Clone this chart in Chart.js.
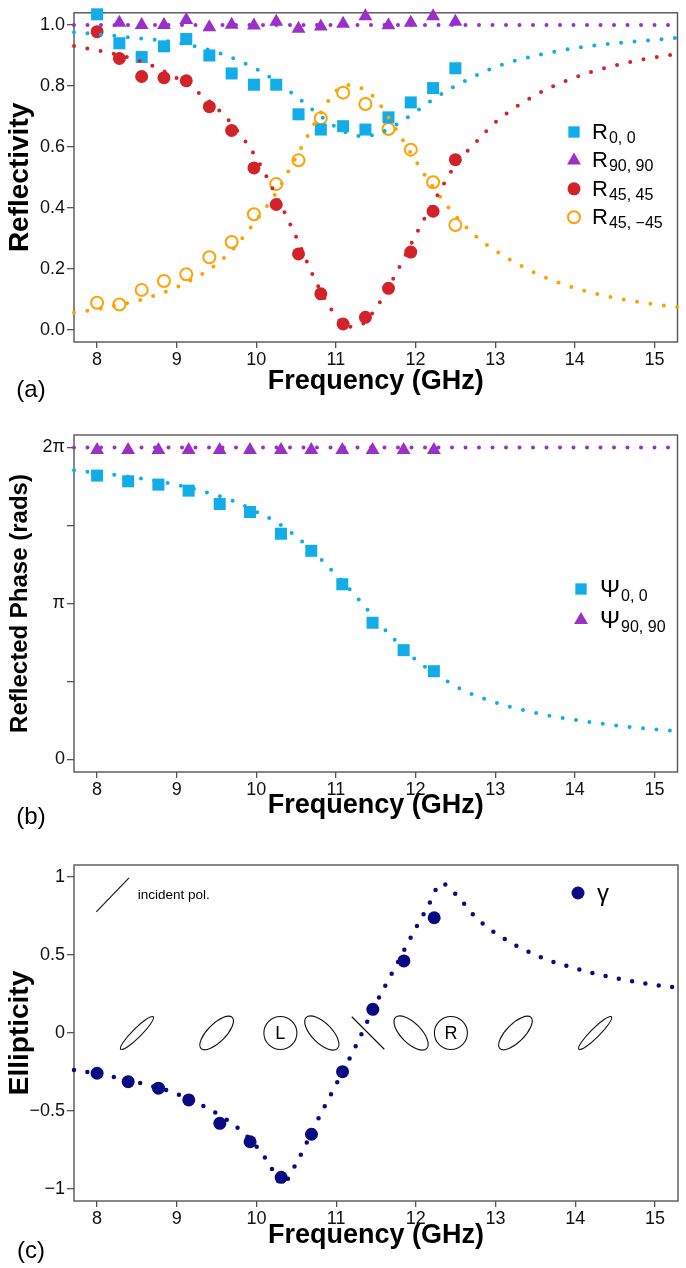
<!DOCTYPE html>
<html>
<head>
<meta charset="utf-8">
<script src="https://cdn.jsdelivr.net/npm/chart.js@4.4.1/dist/chart.umd.min.js"></script>
<style>
  body { margin: 0; background: #fff; width: 686px; height: 1268px; position: relative; overflow: hidden; }
  canvas { position: absolute; left: 0; }
</style>
</head>
<body>
<canvas id="panelA" width="686" height="405" style="top:0"></canvas>
<canvas id="panelB" width="686" height="425" style="top:405px"></canvas>
<canvas id="panelC" width="686" height="438" style="top:830px"></canvas>
<script>
// ---- data ----
// (a) measured reflectivity
const freqA = [8.0, 8.28, 8.56, 8.84, 9.12, 9.41, 9.69, 9.97, 10.25, 10.53, 10.81, 11.09, 11.37, 11.66, 11.94, 12.22, 12.5];
const freqA90 = [8.28, 8.56, 8.84, 9.12, 9.41, 9.69, 9.97, 10.25, 10.53, 10.81, 11.09, 11.37, 11.66, 11.94, 12.22, 12.5];
const r00 = [1.035, 0.94, 0.895, 0.93, 0.954, 0.90, 0.841, 0.804, 0.804, 0.707, 0.657, 0.668, 0.657, 0.697, 0.746, 0.793, 0.858];
const r9090 = [1.007, 1.0, 1.0, 1.016, 0.993, 1.001, 0.998, 1.011, 0.988, 0.995, 1.004, 1.029, 0.999, 1.007, 1.029, 1.011];
const r4545 = [0.978, 0.89, 0.831, 0.827, 0.817, 0.732, 0.654, 0.531, 0.411, 0.249, 0.118, 0.019, 0.041, 0.136, 0.255, 0.389, 0.558];
const r45m45 = [0.089, 0.083, 0.131, 0.16, 0.182, 0.238, 0.288, 0.379, 0.478, 0.556, 0.694, 0.778, 0.741, 0.659, 0.591, 0.484, 0.344];

// (a) model curves (dotted)
const fitFreqA = [7.71, 8.0, 8.5, 9.0, 9.5, 9.75, 10.0, 10.25, 10.5, 10.75, 11.0, 11.15, 11.3, 11.5, 11.75, 12.0, 12.25, 12.5, 12.75, 13.0, 13.5, 14.0, 14.5, 15.0, 15.29];
const fitR00 = [0.976, 0.970, 0.957, 0.942, 0.911, 0.886, 0.856, 0.815, 0.766, 0.713, 0.665, 0.645, 0.636, 0.641, 0.672, 0.715, 0.761, 0.800, 0.833, 0.862, 0.899, 0.924, 0.940, 0.951, 0.958];
const fitR4545 = [0.931, 0.917, 0.885, 0.826, 0.728, 0.657, 0.564, 0.440, 0.305, 0.157, 0.045, 0.010, 0.014, 0.070, 0.182, 0.310, 0.430, 0.540, 0.613, 0.680, 0.769, 0.828, 0.867, 0.894, 0.905];
const fitR45m45 = [0.056, 0.068, 0.095, 0.140, 0.215, 0.277, 0.360, 0.450, 0.567, 0.685, 0.783, 0.803, 0.795, 0.757, 0.660, 0.555, 0.457, 0.375, 0.308, 0.260, 0.187, 0.137, 0.105, 0.084, 0.075];
const fitFreqFlat = [7.71, 15.29];
const fitR9090 = [1.0, 1.0];

// (b) reflected phase, (c) ellipticity
const freqB = [8.0, 8.39, 8.77, 9.15, 9.54, 9.92, 10.31, 10.69, 11.08, 11.46, 11.85, 12.23];
const psi00 = [5.717, 5.602, 5.536, 5.414, 5.145, 4.984, 4.546, 4.202, 3.529, 2.754, 2.202, 1.778];
const psi9090 = [6.23, 6.23, 6.23, 6.23, 6.23, 6.23, 6.23, 6.23, 6.23, 6.23, 6.23, 6.23];
const fitFreqB = [7.71, 8.0, 8.5, 9.0, 9.5, 9.75, 10.0, 10.25, 10.5, 10.75, 11.0, 11.25, 11.5, 11.75, 12.0, 12.25, 12.5, 12.75, 13.0, 13.5, 14.0, 14.5, 15.0, 15.29];
const fitPsi00 = [5.824, 5.775, 5.67, 5.53, 5.32, 5.18, 4.99, 4.78, 4.49, 4.13, 3.72, 3.29, 2.82, 2.39, 2.01, 1.73, 1.48, 1.29, 1.15, 0.94, 0.80, 0.69, 0.61, 0.575];
const fitPsi9090 = [6.2832, 6.2832];

const gamma = [-0.258, -0.312, -0.354, -0.429, -0.579, -0.697, -0.925, -0.649, -0.248, 0.152, 0.462, 0.739];
const fitFreqC = [7.71, 8.0, 8.5, 9.0, 9.5, 9.75, 10.0, 10.15, 10.32, 10.5, 10.75, 11.0, 11.25, 11.5, 11.75, 12.0, 12.15, 12.32, 12.5, 12.75, 13.0, 13.5, 14.0, 14.5, 15.0, 15.29];
const fitGamma = [-0.237, -0.26, -0.316, -0.39, -0.515, -0.602, -0.727, -0.83, -0.968, -0.835, -0.575, -0.33, -0.08, 0.19, 0.43, 0.673, 0.81, 0.96, 0.89, 0.742, 0.64, 0.50, 0.414, 0.353, 0.308, 0.29];

// axis ticks
const xTicks = [8, 9, 10, 11, 12, 13, 14, 15];
const yTicksA = [0, 0.2, 0.4, 0.6, 0.8, 1.0];
const yLabelsA = ['0.0', '0.2', '0.4', '0.6', '0.8', '1.0'];
const yTicksB = [0, Math.PI / 2, Math.PI, 3 * Math.PI / 2, 2 * Math.PI];
const yLabelsB = ['0', '', 'π', '', '2π'];
const yTicksC = [-1, -0.5, 0, 0.5, 1];
const yLabelsC = ['−1', '−0.5', '0', '0.5', '1'];

// ---- styling ----
const FONT = '"Liberation Sans", Arial, Helvetica, sans-serif';
const AXIS = '#555';
const BLUE = '#12ade8', PURPLE = '#9b30c8', RED = '#d3232a', ORANGE = '#ffa200', NAVY = '#0a0a82';

const pts = (xs, ys) => xs.map((x, i) => ({ x, y: ys[i] }));

function markers(xs, ys, style, color, r, filled) {
  return {
    data: pts(xs, ys), showLine: false, clip: false, order: 2,
    pointStyle: style, pointRadius: r, pointHoverRadius: r,
    pointBackgroundColor: filled ? color : 'rgba(0,0,0,0)',
    pointBorderColor: color, pointBorderWidth: filled ? 0 : 2
  };
}

function dotted(xs, ys, color, w, gap) {
  return {
    data: pts(xs, ys), showLine: true, pointRadius: 0, order: 1, clip: false,
    borderColor: color, borderWidth: w, borderDash: [0, gap], borderCapStyle: 'round',
    cubicInterpolationMode: 'monotone', fill: false
  };
}

function xScale(height, pb) {
  return {
    type: 'linear', min: 7.71, max: 15.29,
    afterBuildTicks: s => { s.ticks = xTicks.map(v => ({ value: v })); },
    afterFit: s => { s.height = height; },
    grid: { drawOnChartArea: false, drawTicks: true, tickLength: 6, tickColor: AXIS, lineWidth: 1.3 },
    border: { display: false },
    ticks: { font: { family: FONT, size: 18 }, color: '#111', padding: 1, maxRotation: 0, autoSkip: false },
    title: { display: true, text: 'Frequency (GHz)', color: '#000',
      font: { family: FONT, size: 27, weight: 'bold' }, padding: { top: 0, bottom: pb } }
  };
}

function yScale(min, max, ticks, labels, title, size, pad) {
  return {
    type: 'linear', min, max,
    afterBuildTicks: s => { s.ticks = ticks.map(v => ({ value: v })); },
    afterFit: s => { s.width = 74; },
    grid: { drawOnChartArea: false, drawTicks: true, tickLength: 7, tickColor: AXIS, lineWidth: 1.3 },
    border: { display: false },
    ticks: { font: { family: FONT, size: 18 }, color: '#111', padding: 2, autoSkip: false,
      callback: (v, i) => labels[i] },
    title: { display: true, text: title, color: '#000',
      font: { family: FONT, size, weight: 'bold' }, padding: { top: pad, bottom: 0 } }
  };
}

// box around the plot area
const frame = {
  id: 'frame',
  beforeDatasetsDraw(chart) {
    const { ctx, chartArea: a } = chart;
    ctx.save();
    ctx.strokeStyle = AXIS;
    ctx.lineWidth = 1.4;
    ctx.strokeRect(a.left, a.top, a.right - a.left, a.bottom - a.top);
    ctx.restore();
  }
};

// legend with subscripts
const subLegend = {
  id: 'subLegend',
  afterDraw(chart, args, o) {
    const ctx = chart.ctx;
    ctx.save();
    o.items.forEach((it, i) => {
      const y = o.y + i * o.dy;
      ctx.fillStyle = it.filled ? it.color : 'rgba(0,0,0,0)';
      ctx.strokeStyle = it.color;
      ctx.lineWidth = it.filled ? 0 : 2;
      Chart.helpers.drawPoint(ctx, { pointStyle: it.style, radius: it.r, rotation: 0, borderWidth: it.filled ? 0 : 2 }, o.x, y);
      ctx.fillStyle = '#000';
      ctx.textAlign = 'left';
      ctx.textBaseline = 'alphabetic';
      ctx.font = o.size + 'px ' + FONT;
      ctx.fillText(it.main, o.tx, y + o.base);
      const w = ctx.measureText(it.main).width;
      if (it.sub) {
        ctx.font = o.subSize + 'px ' + FONT;
        ctx.fillText(it.sub, o.tx + w + 1, y + o.subBase);
      }
    });
    ctx.restore();
  }
};

// (a), (b), (c) tags
const panelTag = {
  id: 'panelTag',
  afterDraw(chart, args, o) {
    const ctx = chart.ctx;
    ctx.save();
    ctx.fillStyle = '#000';
    ctx.font = '24px ' + FONT;
    ctx.textAlign = 'center';
    ctx.textBaseline = 'middle';
    ctx.fillText(o.text, o.x, o.y);
    ctx.restore();
  }
};

// polarisation sketches in panel (c)
const polMarks = {
  id: 'polMarks',
  beforeDatasetsDraw(chart, args, o) {
    const { ctx, scales: { x, y } } = chart;
    ctx.save();
    ctx.strokeStyle = '#111';
    ctx.fillStyle = '#000';
    ctx.lineWidth = 1.1;
    const cy = y.getPixelForValue(0);
    o.shapes.forEach(s => {
      const cx = x.getPixelForValue(s.f);
      ctx.beginPath();
      if (s.line) {
        const d = s.a * Math.SQRT1_2;
        ctx.moveTo(cx - d, cy - d);
        ctx.lineTo(cx + d, cy + d);
      } else {
        ctx.ellipse(cx, cy, s.a, s.b, s.tilt, 0, 2 * Math.PI);
      }
      ctx.stroke();
      if (s.text) {
        ctx.font = '18px ' + FONT;
        ctx.textAlign = 'center';
        ctx.textBaseline = 'middle';
        ctx.fillText(s.text, cx, cy + 1);
      }
    });
    // incident polarisation key
    const p = o.incident;
    ctx.beginPath();
    ctx.moveTo(x.getPixelForValue(p.x0), y.getPixelForValue(p.y0));
    ctx.lineTo(x.getPixelForValue(p.x1), y.getPixelForValue(p.y1));
    ctx.stroke();
    ctx.font = '13.5px ' + FONT;
    ctx.textAlign = 'left';
    ctx.textBaseline = 'middle';
    ctx.fillText('incident pol.', x.getPixelForValue(p.tx), y.getPixelForValue(p.ty));
    ctx.restore();
  }
};

const common = {
  responsive: false, maintainAspectRatio: false, animation: false, events: []
};

// ---- panel (a) ----
new Chart(document.getElementById('panelA'), {
  type: 'scatter',
  data: {
    datasets: [
      dotted(fitFreqFlat, fitR9090, PURPLE, 4, 13.5),
      dotted(fitFreqA, fitR00, BLUE, 4, 13.5),
      dotted(fitFreqA, fitR4545, RED, 4, 13.5),
      dotted(fitFreqA, fitR45m45, ORANGE, 4, 13.5),
      markers(freqA, r00, 'rect', BLUE, 8.5, true),
      markers(freqA90, r9090, 'triangle', PURPLE, 8, true),
      markers(freqA, r4545, 'circle', RED, 6.5, true),
      markers(freqA, r45m45, 'circle', ORANGE, 6, false)
    ]
  },
  options: {
    ...common,
    layout: { padding: { top: 6, right: 8, left: 0, bottom: 0 } },
    scales: {
      x: xScale(63, 7),
      y: yScale(-0.04, 1.04, yTicksA, yLabelsA, 'Reflectivity', 28, 3)
    },
    plugins: {
      legend: { display: false }, tooltip: { enabled: false },
      subLegend: { x: 574, tx: 592, y: 132, dy: 28.4, size: 22, subSize: 16, base: 7, subBase: 11,
        items: [
          { style: 'rect', color: BLUE, r: 8, filled: true, main: 'R', sub: '0, 0' },
          { style: 'triangle', color: PURPLE, r: 8, filled: true, main: 'R', sub: '90, 90' },
          { style: 'circle', color: RED, r: 6.5, filled: true, main: 'R', sub: '45, 45' },
          { style: 'circle', color: ORANGE, r: 6, filled: false, main: 'R', sub: '45, −45' }
        ] },
      panelTag: { text: '(a)', x: 31, y: 390 }
    }
  },
  plugins: [frame, subLegend, panelTag]
});

// ---- panel (b) ----
new Chart(document.getElementById('panelB'), {
  type: 'scatter',
  data: {
    datasets: [
      dotted(fitFreqFlat, fitPsi9090, PURPLE, 4, 13.5),
      dotted(fitFreqB, fitPsi00, BLUE, 4, 13.5),
      markers(freqB, psi00, 'rect', BLUE, 8.5, true),
      markers(freqB, psi9090, 'triangle', PURPLE, 8, true)
    ]
  },
  options: {
    ...common,
    layout: { padding: { top: 30, right: 8, left: 0, bottom: 0 } },
    scales: {
      x: xScale(58, 8),
      y: yScale(-0.04 * 2 * Math.PI, 1.04 * 2 * Math.PI, yTicksB, yLabelsB, 'Reflected Phase (rads)', 24, 6)
    },
    plugins: {
      legend: { display: false }, tooltip: { enabled: false },
      subLegend: { x: 581, tx: 600, y: 184, dy: 31, size: 24, subSize: 16, base: 8, subBase: 12,
        items: [
          { style: 'rect', color: BLUE, r: 8, filled: true, main: 'Ψ', sub: '0, 0' },
          { style: 'triangle', color: PURPLE, r: 8, filled: true, main: 'Ψ', sub: '90, 90' }
        ] },
      panelTag: { text: '(b)', x: 31, y: 412 }
    }
  },
  plugins: [frame, subLegend, panelTag]
});

// ---- panel (c) ----
new Chart(document.getElementById('panelC'), {
  type: 'scatter',
  data: {
    datasets: [
      dotted(fitFreqC, fitGamma, NAVY, 4.5, 13.5),
      markers(freqB, gamma, 'circle', NAVY, 6.5, true)
    ]
  },
  options: {
    ...common,
    layout: { padding: { top: 35, right: 8, left: 0, bottom: 0 } },
    scales: {
      x: xScale(67, 16),
      y: yScale(-1.077, 1.077, yTicksC, yLabelsC, 'Ellipticity', 28, 3)
    },
    plugins: {
      legend: { display: false }, tooltip: { enabled: false },
      subLegend: { x: 578, tx: 597, y: 63, dy: 30, size: 24, subSize: 16, base: 8, subBase: 12,
        items: [
          { style: 'circle', color: NAVY, r: 6.5, filled: true, main: 'γ', sub: '' }
        ] },
      panelTag: { text: '(c)', x: 31, y: 421 },
      polMarks: {
        shapes: [
          { f: 8.5, a: 23, b: 4.5, tilt: -Math.PI / 4 },
          { f: 9.5, a: 22, b: 9, tilt: -Math.PI / 4 },
          { f: 10.3, a: 16.5, b: 16.5, tilt: 0, text: 'L' },
          { f: 10.82, a: 22, b: 10, tilt: Math.PI / 4 },
          { f: 11.4, a: 23, line: true },
          { f: 11.94, a: 22, b: 10, tilt: Math.PI / 4 },
          { f: 12.44, a: 16.5, b: 16.5, tilt: 0, text: 'R' },
          { f: 13.25, a: 22, b: 9, tilt: -Math.PI / 4 },
          { f: 14.25, a: 23, b: 4.5, tilt: -Math.PI / 4 }
        ],
        incident: { x0: 7.99, y0: 0.776, x1: 8.4, y1: 0.994, tx: 8.51, ty: 0.885 }
      }
    }
  },
  plugins: [frame, subLegend, panelTag, polMarks]
});
</script>
</body>
</html>
